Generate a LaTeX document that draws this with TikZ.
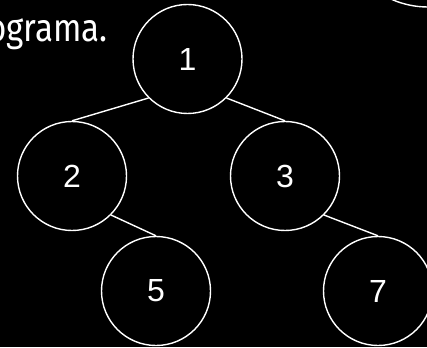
\documentclass[tikz,border=0pt]{standalone}
\usepackage{fontspec}
\setmainfont{Liberation Sans}
\newfontfamily\condfont[FakeStretch=0.85]{Fira Sans}
\begin{document}
\begin{tikzpicture}[x=1pt,y=-1pt,
  treenode/.style={circle,draw=white,line width=1.4pt,minimum size=109pt,inner sep=0pt,font=\fontsize{32}{32}\selectfont,text=white},
  edge/.style={draw=white,line width=1.4pt}]
\fill[black] (0,0) rectangle (427,347);
\useasboundingbox (0,0) rectangle (427,347);
\clip (0,0) rectangle (427,347);
\node[anchor=base east,text=white,inner sep=0pt,font=\condfont\fontsize{39}{39}\selectfont] (txt) at (108,42) {ograma.};
\draw[white,line width=1.4pt] (428,-83) circle (90);
\node[treenode] (n1) at (187.5,59) {1};
\node[treenode] (n2) at (72,176) {2};
\node[treenode] (n3) at (285,176) {3};
\node[treenode] (n5) at (156,291) {5};
\node[treenode] (n7) at (378,291) {7};
\draw[edge] (n1.south west) -- (n2.north);
\draw[edge] (n1.south east) -- (n3.north);
\draw[edge] (n2.south east) -- (n5.north);
\draw[edge] (n3.south east) -- (n7.north);
\end{tikzpicture}
\end{document}
